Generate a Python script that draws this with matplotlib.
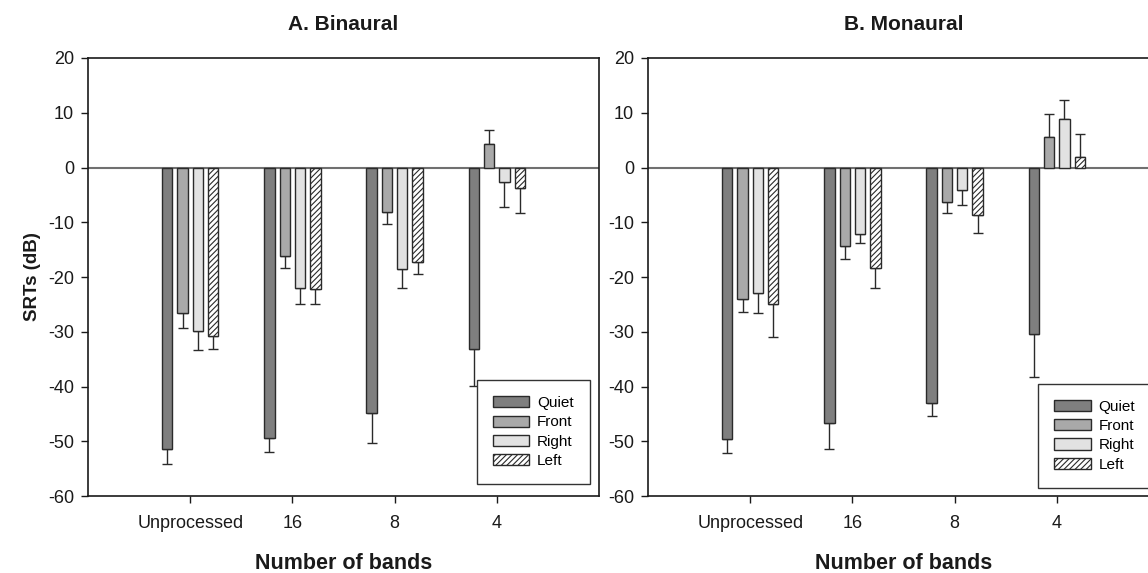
import numpy as np
import matplotlib
matplotlib.use("Agg")
import matplotlib.pyplot as plt

plt.rcParams['font.family'] = ['Liberation Sans', 'DejaVu Sans']
plt.rcParams['hatch.linewidth'] = 0.8
plt.rcParams['axes.unicode_minus'] = False

categories = ["Unprocessed", "16", "8", "4"]
conditions = ["Quiet", "Front", "Right", "Left"]

# Panel A: Binaural
bin_quiet = [-51.4, -49.4, -44.8, -33.2]
bin_front = [-26.5, -16.1, -8.2, 4.3]
bin_right = [-29.8, -22.0, -18.6, -2.7]
bin_left = [-30.7, -22.2, -17.2, -3.7]
bin_quiet_err = [2.8, 2.5, 5.5, 6.7]
bin_front_err = [2.9, 2.3, 2.2, 2.6]
bin_right_err = [3.6, 3.0, 3.4, 4.5]
bin_left_err = [2.4, 2.8, 2.3, 4.7]

# Panel B: Monaural
mon_quiet = [-49.6, -46.6, -43.0, -30.4]
mon_front = [-24.0, -14.4, -6.3, 5.6]
mon_right = [-23.0, -12.1, -4.1, 8.9]
mon_left = [-24.9, -18.3, -8.7, 1.95]
mon_quiet_err = [2.5, 4.9, 2.3, 7.9]
mon_front_err = [2.4, 2.3, 2.0, 4.2]
mon_right_err = [3.5, 1.7, 2.8, 3.5]
mon_left_err = [6.1, 3.7, 3.2, 4.25]

yticks = [20, 10, 0, -10, -20, -30, -40, -50, -60]

styles = [
    dict(facecolor="#7f7f7f", hatch=None),
    dict(facecolor="#a9a9a9", hatch=None),
    dict(facecolor="#e2e2e2", hatch=None),
    dict(facecolor="white", hatch="//////"),
]
edge = "#2a2a2a"

fig = plt.figure(figsize=(11.48, 5.73), dpi=100)
W, H = 1148, 573
axw = (599 - 88) / W
axh = (496 - 58) / H
bottom = 1 - 496 / H
ax1 = fig.add_axes([88 / W, bottom, axw, axh])
ax2 = fig.add_axes([648 / W, bottom, axw, axh])

panels = [
    (ax1, "A. Binaural", [bin_quiet, bin_front, bin_right, bin_left],
     [bin_quiet_err, bin_front_err, bin_right_err, bin_left_err], (0.982, 0.027)),
    (ax2, "B. Monaural", [mon_quiet, mon_front, mon_right, mon_left],
     [mon_quiet_err, mon_front_err, mon_right_err, mon_left_err], (0.985, 0.019)),
]

x = np.arange(1, len(categories) + 1)
offsets = [-0.225, -0.075, 0.075, 0.225]
width = 0.1

for ax, title, series, errs, lgpos in panels:
    ax.axhline(0, color="#707070", lw=1.5, zorder=1)
    handles = []
    for i, (vals, err) in enumerate(zip(series, errs)):
        vals = np.array(vals)
        err = np.array(err)
        pos = x + offsets[i]
        lower = np.where(vals < 0, err, 0)
        upper = np.where(vals > 0, err, 0)
        ax.errorbar(pos, vals, yerr=[lower, upper], fmt="none", ecolor="#2a2a2a",
                    elinewidth=1.0, capsize=3.6, capthick=1.0, zorder=2)
        b = ax.bar(pos, vals, width=width, color=styles[i]["facecolor"],
                   hatch=styles[i]["hatch"], edgecolor=edge, linewidth=1.0,
                   zorder=3, label=conditions[i])
        handles.append(b)
    ax.set_xlim(0, 5)
    ax.set_ylim(-60, 20)
    ax.set_yticks(yticks)
    ax.set_xticks(x)
    ax.set_xticklabels(categories)
    ax.tick_params(axis="both", direction="out", length=5, width=1, labelsize=13,
                   colors="#1a1a1a")
    ax.tick_params(axis="x", pad=9)
    ax.tick_params(axis="y", pad=5)
    for s in ax.spines.values():
        s.set_color("#1a1a1a")
        s.set_linewidth(1.2)
    ax.set_title(title, fontsize=15, fontweight="bold", pad=20, color="#1a1a1a")
    ax.set_xlabel("Number of bands", fontsize=15.5, fontweight="bold", labelpad=15,
                  color="#1a1a1a")
    leg = ax.legend(handles=handles, loc="lower right", bbox_to_anchor=lgpos,
                    fontsize=11, frameon=True, fancybox=False, framealpha=1,
                    edgecolor="#333333", handlelength=2.4, handleheight=0.75,
                    handletextpad=0.5, labelspacing=0.35, borderpad=1.05,
                    borderaxespad=0)
    leg.get_frame().set_linewidth(1.0)

ax1.set_ylabel("SRTs (dB)", fontsize=13.5, fontweight="bold", labelpad=5, color="#1a1a1a")

fig.savefig("out.png", dpi=100)
